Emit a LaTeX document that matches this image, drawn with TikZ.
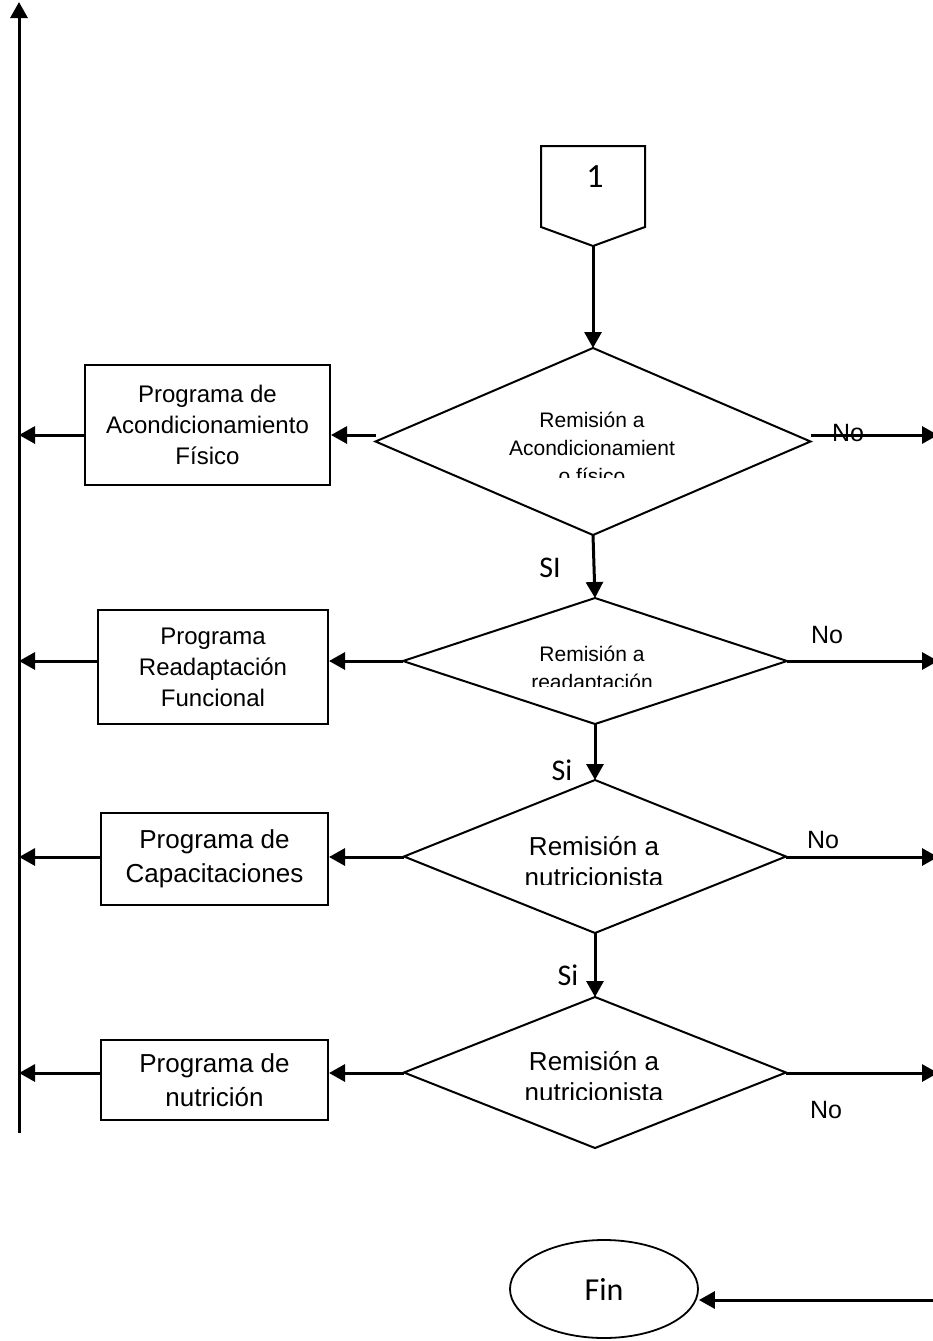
\documentclass[tikz,border=0pt]{standalone}
\usepackage{fontspec}
\setmainfont{Liberation Sans}
\newfontfamily\calib{Carlito}
\usetikzlibrary{arrows.meta,shapes.geometric}
\begin{document}
\begin{tikzpicture}[x=1pt,y=-1pt,
  arr/.style={line width=3pt,-{Triangle[length=16pt,width=17pt]}},
  box/.style={draw,line width=2pt,inner sep=0pt,align=center},
  dec/.style={draw,diamond,line width=2pt,inner sep=0pt,outer sep=0pt},
  small/.style={inner sep=0pt,anchor=base,font=\fontsize{21}{24}\selectfont},
  big/.style={inner sep=0pt,anchor=base,font=\fontsize{26}{30}\selectfont},
  lbl/.style={inner sep=0pt,font=\fontsize{25}{30}\selectfont},
  silbl/.style={inner sep=0pt,font=\calib\fontsize{30}{34}\selectfont}]
\useasboundingbox (0,0) rectangle (933,1341);

% off-page connector 1
\draw[line width=2pt] (541,146) -- (645,146) -- (645,227) -- (593,246) -- (541,227) -- cycle;
\coordinate (c1tip) at (593,246);
\node[inner sep=0pt,font=\calib\fontsize{34}{38}\selectfont] (one) at (595,177) {1};

% decisions
\node[dec,minimum width=435pt,minimum height=187pt] (d1) at (593,441.5) {};
\node[dec,minimum width=384pt,minimum height=126pt] (d2) at (595,661) {};
\node[dec,minimum width=382pt,minimum height=153pt] (d3) at (595,856.5) {};
\node[dec,minimum width=382pt,minimum height=151pt] (d4) at (595,1072.5) {};

% decision texts (clipped as in the original)
\begin{scope}
\clip (420,390) rectangle (770,477);
\node[small] (t1a) at (592,427) {Remisión a};
\node[small] (t1b) at (592,455) {Acondicionamient};
\node[small] (t1c) at (592,483) {o físico};
\end{scope}
\begin{scope}
\clip (440,620) rectangle (750,686);
\node[small] (t2a) at (592,661) {Remisión a};
\node[small] (t2b) at (592,689) {readaptación};
\end{scope}
\begin{scope}
\clip (440,810) rectangle (750,884);
\node[big] (t3a) at (594,855) {Remisión a};
\node[big] (t3b) at (594,886) {nutricionista};
\end{scope}
\begin{scope}
\clip (440,1030) rectangle (750,1099);
\node[big] (t4a) at (594,1070) {Remisión a};
\node[big] (t4b) at (594,1101) {nutricionista};
\end{scope}

% program boxes
\node[box,minimum width=245pt,minimum height=120pt,font=\fontsize{24}{31}\selectfont] (b1) at (207.5,425) {Programa de\\Acondicionamiento\\Físico};
\node[box,minimum width=230pt,minimum height=114pt,font=\fontsize{24}{31}\selectfont] (b2) at (213,667) {Programa\\Readaptación\\Funcional};
\node[box,minimum width=227pt,minimum height=92pt,font=\fontsize{26}{34}\selectfont] (b3) at (214.5,859) {Programa de\\Capacitaciones};
\node[box,minimum width=227pt,minimum height=80pt,font=\fontsize{26}{34}\selectfont] (b4) at (214.5,1080) {Programa de\\nutrición};

% end
\node[draw,ellipse,line width=1.8pt,minimum width=188pt,minimum height=98pt,inner sep=0pt,font=\calib\fontsize{32}{36}\selectfont] (fin) at (604,1289) {Fin};

% helper coordinates
\coordinate (Ltop) at (19,2);
\coordinate (Lbot) at (19,1133);
\coordinate (y1) at (0,435);
\coordinate (y2) at (0,661);
\coordinate (y3) at (0,857);
\coordinate (y4) at (0,1073);
\coordinate (R1) at (938,435);
\coordinate (R2) at (938,661);
\coordinate (R3) at (938,857);
\coordinate (R4) at (938,1073);
\coordinate (R5) at (940,1300);

% left return line
\draw[arr] (Lbot) -- (Ltop);

% main flow
\draw[arr] (c1tip) -- (d1.north);
\draw[arr] (d1.south) -- (d2.north);
\draw[arr] (d2.south) -- (d3.north);
\draw[arr] (d3.south) -- (d4.north);

% to programs
\draw[arr] (d1.west |- y1) -- (b1.east |- y1);
\draw[arr] (d2.west |- y2) -- (b2.east |- y2);
\draw[arr] (d3.west |- y3) -- (b3.east |- y3);
\draw[arr] (d4.west |- y4) -- (b4.east |- y4);
\draw[arr] (b1.west |- y1) -- (Ltop |- y1);
\draw[arr] (b2.west |- y2) -- (Ltop |- y2);
\draw[arr] (b3.west |- y3) -- (Ltop |- y3);
\draw[arr] (b4.west |- y4) -- (Ltop |- y4);

% No branches
\draw[arr] (d1.east |- y1) -- (R1);
\draw[arr] (d2.east |- y2) -- (R2);
\draw[arr] (d3.east |- y3) -- (R3);
\draw[arr] (d4.east |- y4) -- (R4);
\draw[arr] (R5) -- (fin.east |- R5);

% labels
\node[lbl] (no1) at (848,433) {No};
\node[lbl] (no2) at (827,635) {No};
\node[lbl] (no3) at (823,840) {No};
\node[lbl] (no4) at (826,1110) {No};
\node[silbl] (si1) at (550,568) {SI};
\node[silbl] (si2) at (562,770) {Si};
\node[silbl] (si3) at (568,975) {Si};
\end{tikzpicture}
\end{document}
